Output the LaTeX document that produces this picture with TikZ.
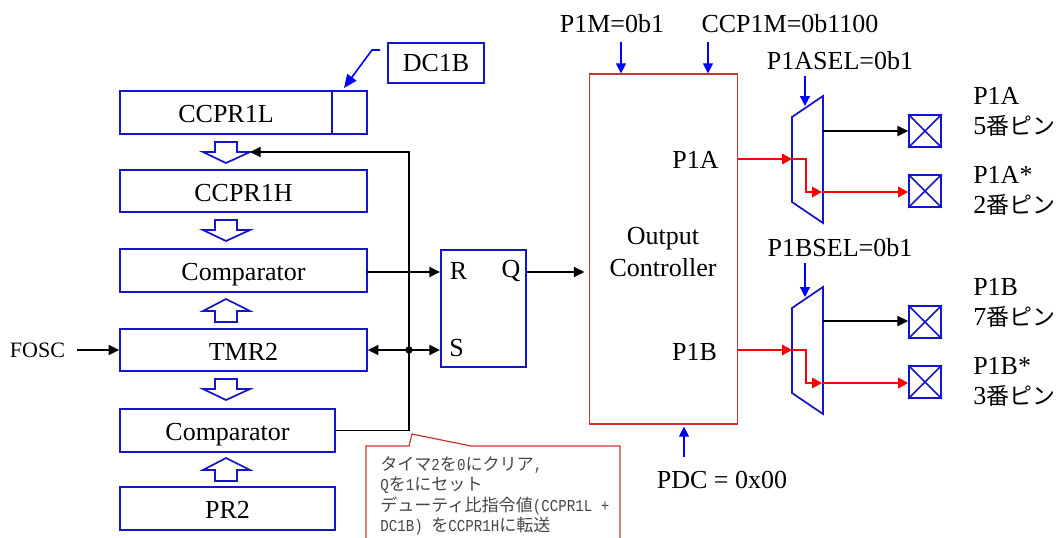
\documentclass[tikz,border=0pt]{standalone}
\usepackage{fontspec}
\setmainfont{Liberation Serif}
\newfontfamily\cjk{Noto Sans CJK JP}
\newfontfamily\halfwidth[FakeStretch=0.85]{Liberation Mono}
\usepackage{tikz}
\usetikzlibrary{arrows.meta,positioning}
\definecolor{blockcol}{RGB}{20,20,200}
\definecolor{ctrlcol}{RGB}{205,50,50}
\definecolor{notecol}{RGB}{70,70,70}
\newcommand{\hw}[1]{{\halfwidth\fontsize{12.5}{15.4}\selectfont #1}}
\newcommand{\pintext}[2]{#1\\[-1pt]#2{\cjk\fontsize{17.2}{20}\selectfont 番ピン}}
\tikzset{
  every node/.style={font=\fontsize{19.5}{23}\selectfont, inner sep=0pt},
  regbox/.style={draw=blockcol, line width=1.3pt, minimum height=32pt, inner sep=0pt, text height=15.2pt, text depth=0.2pt},
  blockline/.style={draw=blockcol, line width=1.3pt, line join=miter},
  pinbox/.style={draw=blockcol, line width=1.3pt, minimum size=24pt},
  blackarrow/.style={draw=black, line width=1.4pt, -{Triangle[length=8pt,width=7.5pt]}},
  redarrow/.style={draw=red, line width=1.1pt, -{Triangle[length=7.5pt,width=8pt]}},
  setarrow/.style={draw=blue, line width=0.9pt, -{Triangle[length=7.5pt,width=7.5pt]}},
}
\begin{document}
\begin{tikzpicture}[x=0.75pt, y=-0.75pt]
  \useasboundingbox (0,0) rectangle (1058,537);
  % Register column
  \node[regbox, minimum width=185pt] (ccprl) at (243.5,112.5) {};
  \node[regbox, draw=none] (ccprltext) at (226,112.5) {CCPR1L};
  \node[regbox, minimum width=26pt] (dcbits) at (349.5,112.5) {};
  \node[regbox, minimum width=185pt] (ccprh) at (243.5,191) {CCPR1H};
  \node[regbox, minimum width=185pt] (cmpa) at (243.5,270.5) {Comparator};
  \node[regbox, minimum width=185pt] (tmr) at (243.5,350) {TMR2};
  \node[regbox, minimum width=161pt] (cmpb) at (227.5,430.5) {Comparator};
  \node[regbox, minimum width=161pt] (prtwo) at (227.5,508.5) {PR2};
  \node[draw=blockcol, line width=1.3pt, minimum width=72pt, minimum height=30pt] (dcb) at (436,63) {DC1B};
  % Hollow arrows between registers
  \foreach \y in {142,220,379}
    \draw[blockline] (215,\y) -- (237,\y) -- (237,\y+10) -- (250,\y+10) -- (226,\y+21) -- (203,\y+10) -- (215,\y+10) -- cycle;
  \foreach \y in {322,481}
    \draw[blockline] (215,\y) -- (237,\y) -- (237,\y-11) -- (250,\y-11) -- (226,\y-23) -- (203,\y-11) -- (215,\y-11) -- cycle;
  % DC1B pointer
  \coordinate (dcbleader) at (380,50);
  \coordinate (dcbbend) at (372,50);
  \coordinate (dcbtip) at (344,88);
  \draw[setarrow, line width=1.2pt, -{Triangle[length=10pt,width=8.5pt]}] (dcbleader) -- (dcbbend) -- (dcbtip);
  % SR latch
  \node[draw=blockcol, line width=1.3pt, minimum width=64pt, minimum height=88pt] (latch) at (483.5,308.5) {};
  \node (latchr) at (458.5,271) {R};
  \node (latchq) at (511,271) {Q};
  \node (latchs) at (456.5,348) {S};
  \node (fosc) at (37.5,350) {\fontsize{16.5}{20}\selectfont FOSC};
  \coordinate (foscstart) at (77,350);
  \draw[blackarrow] (foscstart) -- (tmr.west);
  \coordinate (cmpaout) at (367,272);
  \draw[blackarrow] (cmpaout) -- (latch.west |- cmpaout);
  \node[circle, fill=black, minimum size=5.5pt] (junction) at (409,350) {};
  \coordinate (rise) at (409,152);
  \coordinate (ccprtip) at (250,152);
  \draw[blackarrow] (cmpb.east) -| (rise) -- (ccprtip);
  \draw[blackarrow, {Triangle[length=8pt,width=7.5pt]}-{Triangle[length=8pt,width=7.5pt]}] (tmr.east) -- (latch.west |- tmr.east);
  % Output controller
  \node[draw=ctrlcol, line width=0.9pt, minimum width=111.5pt, minimum height=262.5pt] (ctrl) at (663.5,249) {};
  \node[align=center] (ctrltext) at (663,252) {Output\\[1.5pt]Controller};
  \node (ctrlp1a) at (695.5,159.5) {P1A};
  \node (ctrlp1b) at (694.5,352) {P1B};
  \draw[blackarrow, shorten >=3pt] (latch.east |- cmpaout) -- (ctrl.west |- cmpaout);
  \node (pdc) at (722,480) {PDC = 0x00};
  \node (p1m) at (612,24) {P1M=0b1};
  \node (ccpm) at (790,24) {CCP1M=0b1100};
  \coordinate (p1mstart) at (621,42);
  \coordinate (ccpmstart) at (708,42);
  \coordinate (pdcstart) at (684,457);
  \draw[setarrow] (p1mstart) -- (p1mstart |- ctrl.north);
  \draw[setarrow] (ccpmstart) -- (ccpmstart |- ctrl.north);
  \draw[setarrow, shorten >=1.5pt] (pdcstart) -- (pdcstart |- ctrl.south);
  % Output muxes and pins
  \node (sela) at (840,61) {P1ASEL=0b1};
  \node (selb) at (840,248) {P1BSEL=0b1};
  \foreach \m/\dy in {a/0,b/191} {
    \draw[blockline] (792,117+\dy) -- (823,96+\dy) -- (823,223+\dy) -- (792,202+\dy) -- cycle;
    \coordinate (sel\m) at (805,76+\dy-4*\dy/191);
    \coordinate (seltip\m) at (805,106+\dy);
    \coordinate (in\m) at (792,159+\dy);
    \coordinate (turn\m) at (806,192+\dy);
    \coordinate (hi\m) at (823,131+\dy-\dy/191);
    \coordinate (lo\m) at (822,192+\dy);
    \node[pinbox] (pinhi\m) at (925,131+\dy) {};
    \node[pinbox] (pinlo\m) at (925,191+\dy) {};
    \draw[setarrow] (sel\m) -- (seltip\m);
    \draw[redarrow] (ctrl.east |- in\m) -- (in\m);
    \draw[redarrow] (in\m) -| (turn\m) -- (lo\m);
    \draw[redarrow] (lo\m) -- (pinlo\m.west |- lo\m);
    \draw[blackarrow] (hi\m) -- (pinhi\m.west |- hi\m);
    \foreach \p in {pinhi\m,pinlo\m} {
      \draw[blockline] (\p.north west) -- (\p.south east);
      \draw[blockline] (\p.north east) -- (\p.south west);
    }
  }
  \node[align=left, anchor=west] (pinonea) at (973,112) {\pintext{P1A}{5}};
  \node[align=left, anchor=west] (pintwoa) at (973,191) {\pintext{P1A*}{2}};
  \node[align=left, anchor=west] (pinoneb) at (973,303) {\pintext{P1B}{7}};
  \node[align=left, anchor=west] (pintwob) at (973,382) {\pintext{P1B*}{3}};
  % Note below the latch
  \draw[ctrlcol, line width=0.9pt] (366,540) -- (366,446) -- (409,446) -- (412,434) -- (471,446) -- (620,446) -- (620,540);
  \node[anchor=north west, align=left, text=notecol, font={\cjk\fontsize{12.8}{15.4}\selectfont}] (note) at (380,456) {%
    タイマ\hw{2}を\hw{0}にクリア\hw{,}\\
    \hw{Q}を\hw{1}にセット\\
    デューティ比指令値\hw{(CCPR1L +}\\
    \hw{DC1B) }を\hw{CCPR1H}に転送};
\end{tikzpicture}
\end{document}
